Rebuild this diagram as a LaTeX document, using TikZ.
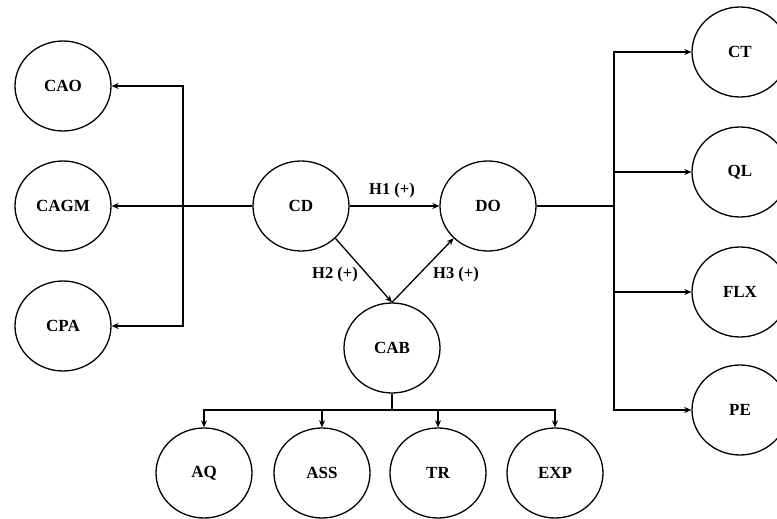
\documentclass[tikz,border=0pt]{standalone}
\usepackage{fontspec}
\setmainfont{Liberation Serif}
\usetikzlibrary{shapes.geometric,arrows.meta}
\begin{document}
\begin{tikzpicture}[x=1pt,y=-1pt,
  construct/.style={ellipse,draw,line width=1.3pt,minimum width=96pt,minimum height=90pt,inner sep=0pt,font=\fontsize{17}{19}\selectfont\bfseries},
  link/.style={line width=1.3pt},
  arr/.style={link,-{Stealth[length=7pt,width=6pt]}},
  hyp/.style={font=\fontsize{16.5}{18}\selectfont\bfseries,inner sep=2pt}]
\useasboundingbox (0,0) rectangle (777,519);
% left dimensions
\node[construct] (CAO)  at (63,86)  {CAO};
\node[construct] (CAGM) at (63,206) {CAGM};
\node[construct] (CPA)  at (63,326) {CPA};
% core constructs
\node[construct] (CD)  at (301,206) {CD};
\node[construct] (DO)  at (488,206) {DO};
\node[construct] (CAB) at (392,348) {CAB};
% right dimensions
\node[construct] (CT)  at (740,52)  {CT};
\node[construct] (QL)  at (740,172) {QL};
\node[construct] (FLX) at (740,292) {FLX};
\node[construct] (PE)  at (740,410) {PE};
% bottom dimensions
\node[construct] (AQ)  at (204,473) {AQ};
\node[construct] (ASS) at (322,473) {ASS};
\node[construct] (TR)  at (438,473) {TR};
\node[construct] (EXP) at (555,473) {EXP};
% bus junctions
\coordinate (lbus) at (183,206);
\coordinate (rbus) at (614,206);
\coordinate (bbus) at (392,410);
% CD to its dimensions
\draw[arr] (CD) -- (CAGM);
\draw[arr] (lbus) |- (CAO);
\draw[arr] (lbus) |- (CPA);
% DO to its dimensions
\draw[link] (DO) -- (rbus);
\draw[arr] (rbus) |- (CT);
\draw[arr] (rbus) |- (QL);
\draw[arr] (rbus) |- (FLX);
\draw[arr] (rbus) |- (PE);
% CAB to its dimensions
\draw[link] (CAB) -- (bbus);
\draw[arr] (bbus) -| (AQ);
\draw[arr] (bbus) -| (ASS);
\draw[arr] (bbus) -| (TR);
\draw[arr] (bbus) -| (EXP);
% hypotheses
\draw[arr] (CD) -- (DO);
\draw[arr] (CD.south east) -- (CAB.north);
\draw[arr] (CAB.north) -- (DO.south west);
\node[hyp] (h1) at (392,191) {H1 (+)};
\node[hyp] (h2) at (335,275) {H2 (+)};
\node[hyp] (h3) at (456,275) {H3 (+)};
\end{tikzpicture}
\end{document}
